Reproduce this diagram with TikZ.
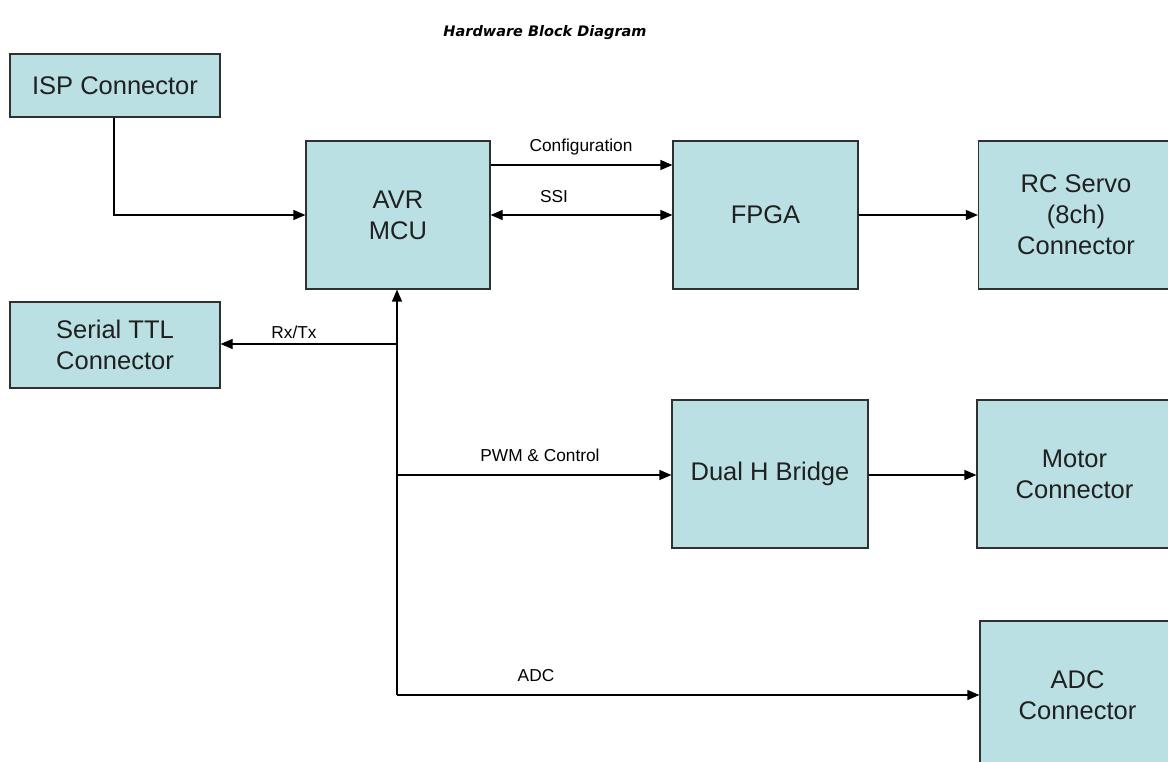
\documentclass[tikz,border=0pt]{standalone}
\usepackage{fontspec}
\setmainfont{Liberation Sans}
\newfontfamily\titlefont{DejaVu Sans}
\usetikzlibrary{arrows.meta}
\definecolor{boxfill}{HTML}{BAE0E3}
\definecolor{boxline}{HTML}{303030}
\definecolor{txt}{HTML}{202020}
\tikzset{
  tip/.tip={Triangle[length=12pt,width=10pt]},
  blk/.style={draw=boxline, line width=1.2pt, fill=boxfill, rectangle, align=center,
    text=txt, font=\fontsize{25.5}{31}\selectfont, inner sep=0pt},
  conn/.style={draw=black, line width=1.2pt, -tip},
  lbl/.style={font=\fontsize{17.3}{20}\selectfont, text=black, inner sep=0pt}
}
\begin{document}
\begin{tikzpicture}[x=1pt,y=-1pt]
\clip (0,0) rectangle (1168,762);
\fill[white] (0,0) rectangle (1168,762);
\node[font=\titlefont\bfseries\itshape\fontsize{14.5}{17}\selectfont] (title) at (545,33) {Hardware Block Diagram};

\node[blk, minimum width=210pt, minimum height=63pt] (isp) at (115,85.5) {ISP Connector};
\node[blk, minimum width=184pt, minimum height=148pt] (avr) at (398,215) {AVR\\MCU};
\node[blk, minimum width=185pt, minimum height=148pt] (fpga) at (765.5,215) {FPGA};
\node[blk, minimum width=195pt, minimum height=148pt] (rc) at (1076,215) {RC Servo\\(8ch)\\Connector};
\node[blk, minimum width=210pt, minimum height=86pt] (ser) at (115,345) {Serial TTL\\Connector};
\node[blk, minimum width=196pt, minimum height=148pt] (hb) at (770,474) {Dual H Bridge};
\node[blk, minimum width=195pt, minimum height=148pt] (mot) at (1074.5,474) {Motor\\Connector};
\node[blk, minimum width=195pt, minimum height=148pt] (adc) at (1077.5,695) {ADC\\Connector};

\coordinate (bus) at (397,695);
\coordinate (busrx) at (397,344);
\coordinate (buspwm) at (397,475);

% ISP -> AVR
\draw[conn] (isp.south -| 114,0) |- (avr.west);
% Configuration
\draw[conn] (avr.east |- 0,165) -- (fpga.west |- 0,165);
\node[lbl] (lcfg) at (581,147) {Configuration};
% SSI
\draw[conn, tip-tip] (avr.east) -- (fpga.west);
\node[lbl] (lssi) at (554,197) {SSI};
% FPGA -> RC
\draw[conn] (fpga.east) -- (rc.west);
% bus up to AVR
\draw[conn] (bus) -- (avr.south -| bus);
% Rx/Tx
\draw[conn] (busrx) -- (ser.east |- busrx);
\node[lbl] (lrx) at (294,332) {Rx/Tx};
% PWM
\draw[conn] (buspwm) -- (hb.west |- buspwm);
\node[lbl] (lpwm) at (540,455) {PWM \& Control};
% HB -> Motor
\draw[conn] (hb.east |- buspwm) -- (mot.west |- buspwm);
% ADC
\draw[conn] (bus) -- (adc.west);
\node[lbl] (ladc) at (536,676) {ADC};
\end{tikzpicture}
\end{document}
